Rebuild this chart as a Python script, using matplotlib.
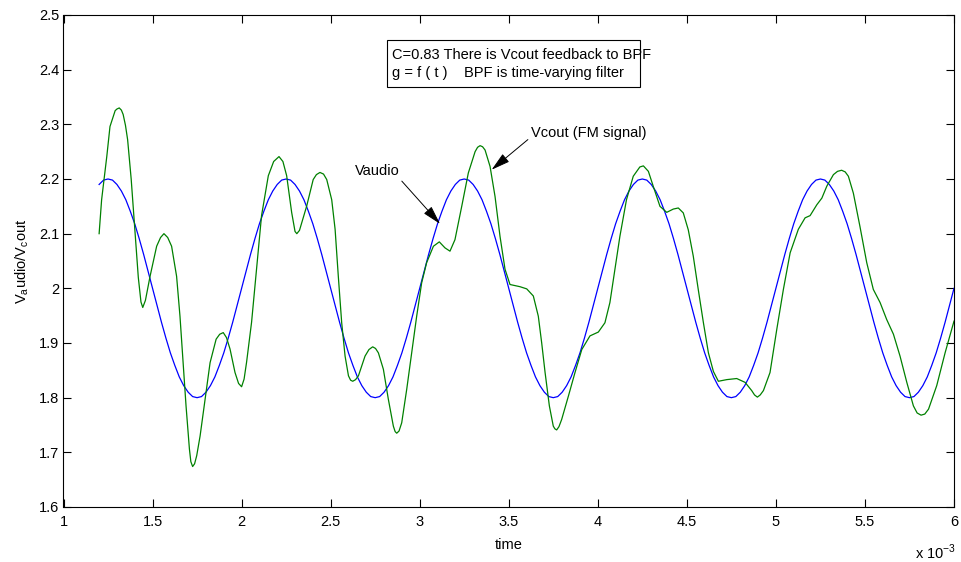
import numpy as np
import matplotlib
matplotlib.use("Agg")
import matplotlib.pyplot as plt
from matplotlib.patches import Rectangle

# ---------------- data ----------------
x_ticks = [1, 1.5, 2, 2.5, 3, 3.5, 4, 4.5, 5, 5.5, 6]
x_tick_labels = ["1", "1.5", "2", "2.5", "3", "3.5", "4", "4.5", "5", "5.5", "6"]
y_ticks = [1.6, 1.7, 1.8, 1.9, 2.0, 2.1, 2.2, 2.3, 2.4, 2.5]
y_tick_labels = ["1.6", "1.7", "1.8", "1.9", "2", "2.1", "2.2", "2.3", "2.4", "2.5"]

# Vaudio (blue), sampled every 0.025 (x 10^-3 s) from 1.2 to 6.0
vaudio_t = np.round(np.arange(1.2, 6.0 + 1e-9, 0.025), 3)
vaudio = [
    2.190, 2.198, 2.200, 2.198, 2.190, 2.178, 2.162, 2.141, 2.118, 2.091,
    2.062, 2.031, 2.000, 1.969, 1.938, 1.909, 1.882, 1.859, 1.838, 1.822,
    1.810, 1.802, 1.800, 1.802, 1.810, 1.822, 1.838, 1.859, 1.882, 1.909,
    1.938, 1.969, 2.000, 2.031, 2.062, 2.091, 2.118, 2.141, 2.162, 2.178,
    2.190, 2.198, 2.200, 2.198, 2.190, 2.178, 2.162, 2.141, 2.118, 2.091,
    2.062, 2.031, 2.000, 1.969, 1.938, 1.909, 1.882, 1.859, 1.838, 1.822,
    1.810, 1.802, 1.800, 1.802, 1.810, 1.822, 1.838, 1.859, 1.882, 1.909,
    1.938, 1.969, 2.000, 2.031, 2.062, 2.091, 2.118, 2.141, 2.162, 2.178,
    2.190, 2.198, 2.200, 2.198, 2.190, 2.178, 2.162, 2.141, 2.118, 2.091,
    2.062, 2.031, 2.000, 1.969, 1.938, 1.909, 1.882, 1.859, 1.838, 1.822,
    1.810, 1.802, 1.800, 1.802, 1.810, 1.822, 1.838, 1.859, 1.882, 1.909,
    1.938, 1.969, 2.000, 2.031, 2.062, 2.091, 2.118, 2.141, 2.162, 2.178,
    2.190, 2.198, 2.200, 2.198, 2.190, 2.178, 2.162, 2.141, 2.118, 2.091,
    2.062, 2.031, 2.000, 1.969, 1.938, 1.909, 1.882, 1.859, 1.838, 1.822,
    1.810, 1.802, 1.800, 1.802, 1.810, 1.822, 1.838, 1.859, 1.882, 1.909,
    1.938, 1.969, 2.000, 2.031, 2.062, 2.091, 2.118, 2.141, 2.162, 2.178,
    2.190, 2.198, 2.200, 2.198, 2.190, 2.178, 2.162, 2.141, 2.118, 2.091,
    2.062, 2.031, 2.000, 1.969, 1.938, 1.909, 1.882, 1.859, 1.838, 1.822,
    1.810, 1.802, 1.800, 1.802, 1.810, 1.822, 1.838, 1.859, 1.882, 1.909,
    1.938, 1.969, 2.000,
]

# Vcout (green, FM signal)
vcout_t = [
    1.200, 1.214, 1.243, 1.261, 1.290, 1.300, 1.313, 1.325, 1.335, 1.348,
    1.360, 1.380, 1.400, 1.420, 1.435, 1.445, 1.460, 1.486, 1.523, 1.545,
    1.564, 1.585, 1.607, 1.635, 1.654, 1.669, 1.688, 1.707, 1.715, 1.725,
    1.736, 1.748, 1.767, 1.795, 1.823, 1.857, 1.877, 1.897, 1.915, 1.935,
    1.963, 1.983, 2.000, 2.014, 2.028, 2.056, 2.084, 2.112, 2.150, 2.180,
    2.210, 2.232, 2.253, 2.281, 2.300, 2.310, 2.325, 2.365, 2.402, 2.420,
    2.440, 2.460, 2.478, 2.506, 2.525, 2.543, 2.562, 2.581, 2.600, 2.612,
    2.624, 2.640, 2.656, 2.693, 2.715, 2.736, 2.752, 2.768, 2.796, 2.824,
    2.852, 2.862, 2.871, 2.884, 2.899, 2.927, 2.955, 2.983, 3.011, 3.039,
    3.077, 3.110, 3.142, 3.170, 3.198, 3.236, 3.273, 3.311, 3.325, 3.339,
    3.353, 3.367, 3.395, 3.423, 3.451, 3.479, 3.507, 3.563, 3.601, 3.638,
    3.666, 3.685, 3.704, 3.728, 3.750, 3.759, 3.769, 3.782, 3.797, 3.835,
    3.872, 3.910, 3.956, 4.003, 4.040, 4.068, 4.096, 4.124, 4.161, 4.199,
    4.236, 4.256, 4.284, 4.312, 4.349, 4.387, 4.424, 4.452, 4.480, 4.508,
    4.536, 4.564, 4.593, 4.621, 4.649, 4.677, 4.724, 4.780, 4.827, 4.864,
    4.880, 4.896, 4.912, 4.930, 4.967, 5.005, 5.042, 5.080, 5.126, 5.164,
    5.192, 5.230, 5.258, 5.286, 5.323, 5.346, 5.369, 5.389, 5.407, 5.435,
    5.472, 5.510, 5.547, 5.585, 5.622, 5.660, 5.697, 5.735, 5.772, 5.793,
    5.815, 5.836, 5.857, 5.903, 5.950, 6.000,
]
vcout = [
    2.100, 2.162, 2.241, 2.296, 2.325, 2.328, 2.330, 2.326, 2.318, 2.298,
    2.272, 2.200, 2.110, 2.020, 1.975, 1.965, 1.978, 2.022, 2.077, 2.093,
    2.100, 2.093, 2.077, 2.022, 1.949, 1.876, 1.785, 1.706, 1.683, 1.674,
    1.679, 1.694, 1.730, 1.797, 1.864, 1.907, 1.916, 1.919, 1.910, 1.889,
    1.846, 1.826, 1.820, 1.834, 1.865, 1.938, 2.035, 2.133, 2.206, 2.232,
    2.241, 2.232, 2.206, 2.139, 2.104, 2.100, 2.106, 2.150, 2.199, 2.208,
    2.212, 2.209, 2.199, 2.162, 2.108, 2.022, 1.937, 1.876, 1.840, 1.832,
    1.830, 1.833, 1.840, 1.876, 1.888, 1.893, 1.890, 1.882, 1.852, 1.797,
    1.748, 1.738, 1.735, 1.739, 1.754, 1.815, 1.882, 1.949, 2.010, 2.047,
    2.077, 2.085, 2.074, 2.068, 2.089, 2.150, 2.211, 2.250, 2.258, 2.261,
    2.259, 2.253, 2.223, 2.168, 2.095, 2.035, 2.007, 2.003, 1.999, 1.986,
    1.949, 1.900, 1.846, 1.785, 1.748, 1.743, 1.741, 1.747, 1.760, 1.803,
    1.846, 1.888, 1.913, 1.920, 1.937, 1.974, 2.035, 2.095, 2.162, 2.205,
    2.222, 2.224, 2.214, 2.186, 2.150, 2.139, 2.145, 2.147, 2.138, 2.107,
    2.059, 1.998, 1.937, 1.882, 1.848, 1.830, 1.833, 1.835, 1.828, 1.813,
    1.805, 1.801, 1.805, 1.813, 1.846, 1.925, 1.998, 2.065, 2.108, 2.129,
    2.133, 2.153, 2.165, 2.187, 2.208, 2.214, 2.216, 2.213, 2.205, 2.174,
    2.113, 2.047, 1.998, 1.974, 1.943, 1.916, 1.876, 1.828, 1.785, 1.772,
    1.768, 1.770, 1.779, 1.822, 1.882, 1.940,
]

# ---------------- figure ----------------
plt.rcParams['font.family'] = ['Liberation Sans', 'DejaVu Sans']
FS = 10.5
W, H = 962, 562
fig = plt.figure(figsize=(W / 100, H / 100), dpi=100)
ax = fig.add_axes([63.5 / W, 1 - 507 / H, (954 - 63.5) / W, (507 - 15) / H])

ax.plot(vaudio_t, vaudio, color=(0, 0, 1), lw=0.9)
ax.plot(vcout_t, vcout, color=(0, 0.5, 0), lw=0.9)

ax.set_xlim(1, 6)
ax.set_ylim(1.6, 2.5)
ax.set_xticks(x_ticks)
ax.set_xticklabels(x_tick_labels)
ax.set_yticks(y_ticks)
ax.set_yticklabels(y_tick_labels)
ax.tick_params(direction='in', length=5.5, width=0.8, top=True, right=True,
               labelsize=FS)
ax.tick_params(axis='y', pad=3)
ax.tick_params(axis='x', pad=6)
for s in ax.spines.values():
    s.set_linewidth(0.8)

ax.set_xlabel("time", fontsize=FS, labelpad=6)
ax.set_ylabel("V$_{\\mathregular{a}}$udio/V$_{\\mathregular{c}}$out", fontsize=FS, labelpad=6)

fig.text(956 / W, 1 - 552 / H, "x 10$^{\\mathregular{-3}}$", ha='right', va='center', fontsize=FS)

# text box
fig.patches.append(Rectangle((387 / W, 1 - 87 / H), (640 - 387) / W, (87 - 40) / H,
                             transform=fig.transFigure, fill=False, lw=0.8, ec='black'))
fig.text(392 / W, 1 - 55 / H, "C=0.83 There is Vcout feedback to BPF", ha='left', va='center', fontsize=FS)
fig.text(392 / W, 1 - 73 / H, "g = f ( t )    BPF is time-varying filter", ha='left', va='center', fontsize=FS)

arrow = dict(arrowstyle='-|>,head_length=1.1,head_width=0.3', color='black', lw=0.7, shrinkA=0, shrinkB=0)
ax.annotate("Vaudio", xy=(3.114, 2.118), xytext=(2.76, 2.214), fontsize=FS,
            ha='center', va='center', arrowprops=dict(arrow, relpos=(1.0, 0.0)))
ax.annotate("Vcout (FM signal)", xy=(3.404, 2.217), xytext=(3.623, 2.284), fontsize=FS,
            ha='left', va='center', arrowprops=dict(arrow, relpos=(0.0, 0.2)))

fig.savefig("out.png", dpi=100)
